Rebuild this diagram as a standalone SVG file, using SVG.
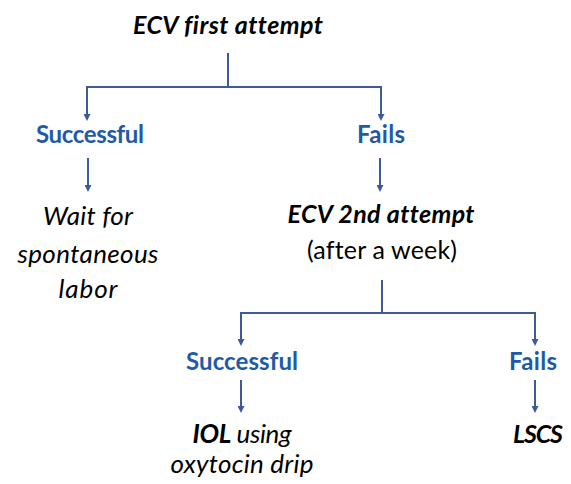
<svg xmlns="http://www.w3.org/2000/svg" width="571" height="484" viewBox="0 0 571 484">
  <style>
    text { font-family: Lato, "Liberation Sans", sans-serif; text-anchor: middle; font-size: 24px; font-variant-ligatures: none; }
    .head { font-weight: bold; font-style: italic; fill: #000; font-size: 25px; }
    .res { font-weight: bold; fill: #1f5aa6; font-size: 24px; }
    .note { font-style: italic; fill: #000; font-size: 26px; }
    .plain { fill: #000; font-size: 25px; }
    .line { stroke: #3d5a99; stroke-width: 2; fill: none; }
    .arrow { stroke: #3d5a99; stroke-width: 2; fill: none; marker-end: url(#tip); }
  </style>
  <defs>
    <marker id="tip" markerWidth="7" markerHeight="7" refX="5" refY="3.5" orient="auto" markerUnits="userSpaceOnUse" viewBox="0 0 7 7">
      <path d="M0,0 L7,3.5 L0,7 Z" fill="#3d5a99"/>
    </marker>
  </defs>
  <rect width="571" height="484" fill="#fff"/>

  <g id="connectors">
    <line class="line" x1="228" y1="53" x2="228" y2="87"/>
    <line class="line" x1="87" y1="87" x2="381" y2="87"/>
    <line class="arrow" x1="87" y1="86" x2="87" y2="119"/>
    <line class="arrow" x1="381" y1="86" x2="381" y2="119"/>
    <line class="arrow" x1="88" y1="158" x2="88" y2="190"/>
    <line class="arrow" x1="380" y1="158" x2="380" y2="190"/>
    <line class="line" x1="382" y1="280" x2="382" y2="313"/>
    <line class="line" x1="241" y1="313" x2="535" y2="313"/>
    <line class="arrow" x1="241" y1="312" x2="241" y2="344"/>
    <line class="arrow" x1="535" y1="312" x2="535" y2="344"/>
    <line class="arrow" x1="241" y1="380" x2="241" y2="411"/>
    <line class="arrow" x1="535" y1="380" x2="535" y2="411"/>
  </g>

  <g id="ecv-first">
    <text class="head" x="228" y="34" textLength="190">ECV first attempt</text>
  </g>
  <g id="successful-1">
    <text class="res" x="90" y="143" textLength="108">Successful</text>
  </g>
  <g id="fails-1">
    <text class="res" x="381" y="143" textLength="48">Fails</text>
  </g>
  <g id="wait">
    <text class="note" x="88" y="225" textLength="90">Wait for</text>
    <text class="note" x="88" y="263" textLength="141">spontaneous</text>
    <text class="note" x="88" y="298" textLength="59">labor</text>
  </g>
  <g id="ecv-second">
    <text class="head" x="381" y="223" textLength="187">ECV 2nd attempt</text>
    <text class="plain" x="382" y="259" textLength="150">(after a week)</text>
  </g>
  <g id="successful-2">
    <text class="res" x="242" y="370" textLength="112">Successful</text>
  </g>
  <g id="fails-2">
    <text class="res" x="533" y="370" textLength="48">Fails</text>
  </g>
  <g id="iol">
    <text class="note" x="242" y="443" textLength="99"><tspan font-weight="bold">IOL</tspan> using</text>
    <text class="note" x="242" y="473" textLength="143">oxytocin drip</text>
  </g>
  <g id="lscs">
    <text class="head" x="538" y="443" textLength="50">LSCS</text>
  </g>
</svg>
